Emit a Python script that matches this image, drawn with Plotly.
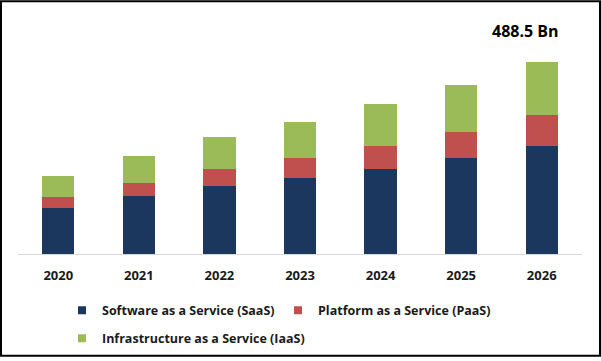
import plotly.graph_objects as go

years = ["2020", "2021", "2022", "2023", "2024", "2025", "2026"]
saas = [117, 147, 174, 194, 217, 245, 275]
paas = [28, 35, 43, 50, 58, 65, 78]
iaas = [54, 68, 80, 93, 106, 121, 135.5]
series_names = ["Software as a Service (SaaS)", "Platform as a Service (PaaS)",
                "Infrastructure as a Service (IaaS)"]
colors = ["#1b375e", "#c0504d", "#9bbb59"]
top_label = "488.5 Bn"

W, H = 601, 361
ML, MR, MT, MB = 18, 19, 20, 104
PW, PH = W - ML - MR, H - MT - MB

fig = go.Figure()
legends = ["legend", "legend", "legend2"]
for name, vals, col, lg in zip(series_names, [saas, paas, iaas], colors, legends):
    fig.add_trace(go.Bar(x=years, y=vals, name=name, marker=dict(color=col, line=dict(width=0)),
                         showlegend=False, hoverinfo="skip"))
for name, col, lg in zip(series_names, colors, legends):
    fig.add_trace(go.Scatter(x=[years[0]], y=[None], mode="markers", name=name, legend=lg,
                             marker=dict(symbol="square", size=8, color=col), showlegend=True,
                             hoverinfo="skip"))

totals = [a + b + c for a, b, c in zip(saas, paas, iaas)]
fig.add_annotation(x=len(years) - 1, y=totals[-1], xref="x", yref="y", text=top_label,
                   showarrow=False, yanchor="bottom", yshift=18, xshift=-16,
                   font=dict(family="Open Sans", size=16, color="#000000", weight="bold"))

def px_to_paper_x(px):
    return (px - ML) / PW

def px_to_paper_y(py):
    return (H - MB - py) / PH

fig.add_shape(type="rect", xref="paper", yref="paper",
              x0=px_to_paper_x(1), x1=px_to_paper_x(600),
              y0=px_to_paper_y(360), y1=px_to_paper_y(1),
              line=dict(color="#000000", width=2), fillcolor="rgba(0,0,0,0)", layer="above")

legend_font = dict(family="Open Sans", size=12.5, color="#1a1a1a", weight="bold")
fig.update_layout(
    width=W, height=H,
    margin=dict(l=ML, r=MR, t=MT, b=MB),
    paper_bgcolor="#ffffff", plot_bgcolor="#ffffff",
    barmode="stack", bargap=0.6,
    showlegend=True,
    legend=dict(orientation="h", xref="container", yref="container", traceorder="normal",
                x=62 / W, xanchor="left", y=1 - 310.7 / H, yanchor="middle",
                font=legend_font, entrywidth=171, entrywidthmode="pixels",
                bgcolor="rgba(0,0,0,0)"),
    legend2=dict(orientation="h", xref="container", yref="container",
                 x=62 / W, xanchor="left", y=1 - 338.7 / H, yanchor="middle",
                 font=legend_font, bgcolor="rgba(0,0,0,0)"),
    xaxis=dict(type="category", categoryorder="array", categoryarray=years,
               range=[-0.5, len(years) - 0.5], autorange=False,
               showgrid=False, showline=True, linecolor="#d9d9d9", linewidth=1,
               ticks="", ticklabelstandoff=9,
               tickfont=dict(family="Open Sans", size=13, color="#1a1a1a", weight="bold"),
               fixedrange=True),
    yaxis=dict(range=[0, 596], autorange=False, showgrid=False, showline=False,
               showticklabels=False, zeroline=False, ticks="", fixedrange=True),
)

fig.write_html("out.html", config={"displayModeBar": False},
               post_script="document.body.style.margin='0';document.body.style.overflow='hidden';")
